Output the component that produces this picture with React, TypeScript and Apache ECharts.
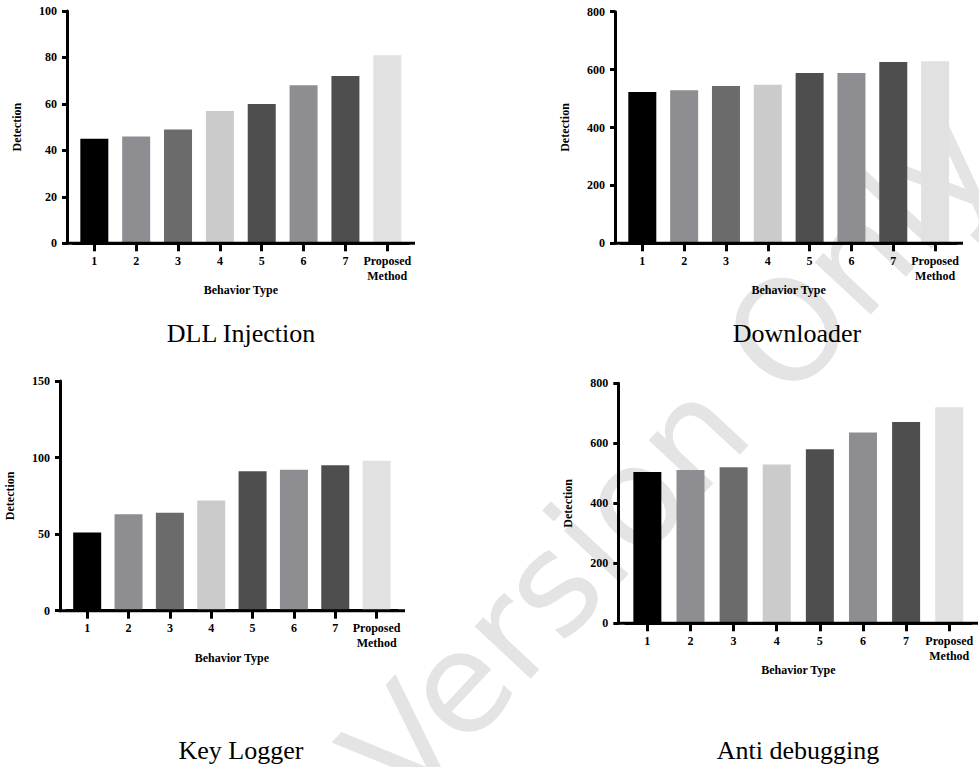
import React, { useEffect, useRef } from "react";
import * as echarts from "echarts";

// ---- data ----
const categories = ["1", "2", "3", "4", "5", "6", "7", "Proposed\nMethod"];
const dllInjection = [45, 46, 49, 57, 60, 68, 72, 81];
const downloader = [523, 529, 543, 548, 588, 588, 626, 629];
const keyLogger = [51, 63, 64, 72, 91, 92, 95, 98];
const antiDebugging = [504, 511, 520, 529, 580, 636, 671, 720];
const panelTitles = ["DLL Injection", "Downloader", "Key Logger", "Anti debugging"];
const yMax = [100, 800, 150, 800];
const yStep = [20, 200, 50, 200];
const xAxisName = "Behavior Type";
const yAxisName = "Detection";
const watermarkText = "Version Only";

// ---- styles / layout ----
const barColors = ["#000000", "#8e8e92", "#6b6b6b", "#cbcbcb", "#4e4e4e", "#8e8e92", "#4e4e4e", "#e1e1e1"];
const layouts = [
  { left: 73.4, top: 11, width: 334.8, bottom: 243.3, axisX: 67, lineEnd: 415, titleX: 241, titleY: 333 },
  { left: 621.4, top: 11.7, width: 334.6, bottom: 243.3, axisX: 615, lineEnd: 963, titleX: 797, titleY: 333 },
  { left: 66.5, top: 381, width: 330.8, bottom: 610.7, axisX: 60, lineEnd: 405, titleX: 241, titleY: 750 },
  { left: 625.8, top: 383.3, width: 345, bottom: 623.3, axisX: 618.3, lineEnd: 978, titleX: 798, titleY: 750 },
];
const FONT = "Liberation Serif";

export default function App() {
  const ref = useRef<HTMLDivElement>(null);
  useEffect(() => {
    if (!ref.current) return;
    const chart = echarts.init(ref.current, null, { renderer: "svg" });
    const seriesData = [dllInjection, downloader, keyLogger, antiDebugging];
    const labelStyle = { fontFamily: FONT, fontWeight: "bold" as const, fontSize: 12, color: "#000" };

    const grid = layouts.map((l) => ({
      left: l.left,
      top: l.top,
      width: l.width,
      height: l.bottom - l.top,
    }));
    const xAxis = layouts.map((l, i) => ({
      type: "category",
      gridIndex: i,
      data: categories,
      name: xAxisName,
      nameLocation: "middle",
      nameGap: 31,
      nameTextStyle: { ...labelStyle },
      axisLine: { lineStyle: { color: "#000", width: 3 } },
      axisTick: { show: true, alignWithLabel: true, length: 8, lineStyle: { color: "#000", width: 3 } },
      axisLabel: { ...labelStyle, margin: 10, lineHeight: 15, interval: 0 },
      splitLine: { show: false },
    }));
    const yAxis = layouts.map((l, i) => ({
      type: "value",
      gridIndex: i,
      min: 0,
      max: yMax[i],
      interval: yStep[i],
      offset: l.left - l.axisX,
      name: yAxisName,
      nameLocation: "middle",
      nameRotate: 90,
      nameGap: 44,
      nameTextStyle: { ...labelStyle },
      axisLine: { show: true, lineStyle: { color: "#000", width: 3 } },
      axisTick: { show: true, length: 5, lineStyle: { color: "#000", width: 3 } },
      axisLabel: { ...labelStyle, margin: 10 },
      splitLine: { show: false },
    }));
    const series = seriesData.map((vals, i) => ({
      type: "bar",
      xAxisIndex: i,
      yAxisIndex: i,
      barWidth: 28,
      z: 5,
      data: vals.map((v, j) => ({ value: v, itemStyle: { color: barColors[j] } })),
    }));
    const graphic: any[] = [
      {
        type: "text",
        z: -10,
        silent: true,
        x: 370,
        y: 780,
        rotation: (47 * Math.PI) / 180,
        style: {
          text: watermarkText,
          fontFamily: "DejaVu Sans",
          fontSize: 140,
          fill: "#e4e4e4",
          align: "left",
          verticalAlign: "middle",
        },
      },
    ];
    layouts.forEach((l, i) => {
      graphic.push({
        type: "line",
        z: 100,
        shape: { x1: l.axisX - 1.5, y1: l.bottom, x2: l.lineEnd, y2: l.bottom },
        style: { stroke: "#000", lineWidth: 3 },
      });
      graphic.push({
        type: "text",
        z: 100,
        x: l.titleX,
        y: l.titleY,
        style: {
          text: panelTitles[i],
          fontFamily: FONT,
          fontSize: 26,
          fill: "#000",
          align: "center",
          verticalAlign: "middle",
        },
      });
    });

    chart.setOption({
      animation: false,
      backgroundColor: "#fff",
      textStyle: { fontFamily: FONT },
      grid,
      xAxis,
      yAxis,
      series,
      graphic,
    } as any);
    return () => chart.dispose();
  }, []);
  return <div ref={ref} style={{ position: "fixed", left: 0, top: 0, width: 979, height: 767 }} />;
}
